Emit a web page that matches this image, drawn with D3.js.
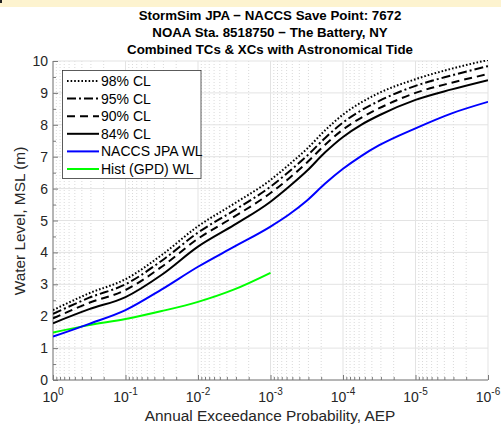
<!DOCTYPE html>
<html><head><meta charset="utf-8">
<script src="https://cdn.jsdelivr.net/npm/d3@7"></script>
<style>
html,body{margin:0;padding:0;background:#fff;}
svg{display:block;font-family:"Liberation Sans",Arial,Helvetica,sans-serif;}
</style></head>
<body><svg id="c" width="501" height="428"></svg>
<script>
// ---- data ----
const titleLines = ["StormSim JPA \u2212 NACCS Save Point: 7672","NOAA Sta. 8518750 \u2212 The Battery, NY","Combined TCs & XCs with Astronomical Tide"];
const xTickExps = [0,-1,-2,-3,-4,-5,-6];
const yTicks = [0,1,2,3,4,5,6,7,8,9,10];
const aep = [1, 0.3162, 0.1, 0.03162, 0.01, 0.003162, 0.001, 0.0005623, 0.0003162, 0.0001778, 0.0001, 0.00005623, 0.00003162, 0.00001, 0.000003162, 0.000001];
const cl98 = [2.19, 2.72, 3.16, 3.92, 4.82, 5.53, 6.27, 6.74, 7.24, 7.82, 8.32, 8.70, 9.00, 9.43, 9.76, 10.03];
const cl95 = [2.07, 2.58, 3.00, 3.74, 4.62, 5.32, 6.06, 6.52, 7.02, 7.58, 8.07, 8.45, 8.75, 9.22, 9.55, 9.84];
const cl90 = [1.93, 2.42, 2.82, 3.55, 4.43, 5.12, 5.86, 6.31, 6.81, 7.37, 7.85, 8.22, 8.52, 9.00, 9.32, 9.59];
const cl84 = [1.78, 2.22, 2.60, 3.30, 4.18, 4.86, 5.59, 6.05, 6.55, 7.13, 7.62, 8.00, 8.30, 8.78, 9.11, 9.40];
const jpa  = [1.36, 1.76, 2.19, 2.84, 3.55, 4.18, 4.81, 5.18, 5.62, 6.15, 6.62, 7.02, 7.36, 7.89, 8.36, 8.72];
const gpdAep = [1, 0.3162, 0.1, 0.03162, 0.01, 0.003162, 0.001];
const gpd  = [1.49, 1.72, 1.91, 2.16, 2.45, 2.84, 3.36];
const seriesNames = ["98% CL","95% CL","90% CL","84% CL","NACCS JPA WL","Hist (GPD) WL"];

// ---- layout ----
const svg = d3.select("#c");
const L=53, R=488, T=61, B=380;
const x = d3.scaleLog().domain([1,1e-6]).range([L,R]);
const y = d3.scaleLinear().domain([0,10]).range([B,T]);

svg.append("rect").attr("x",0).attr("y",0).attr("width",501).attr("height",7).attr("fill","#fdf3cf");
svg.append("rect").attr("x",0).attr("y",0).attr("width",2).attr("height",3).attr("fill","#222");

// title
svg.append("g").selectAll("text").data(titleLines).join("text")
  .attr("x",270).attr("y",(d,i)=>20+i*17).attr("text-anchor","middle")
  .attr("font-size",13.3).attr("font-weight","bold").attr("fill","#000").text(d=>d);

const g = svg.append("g");
// minor x grid
const minorX = [];
for (let e=0;e>-6;e--) for (let k=2;k<=9;k++) minorX.push(k*Math.pow(10,e-1));
g.append("g").selectAll("line").data(minorX).join("line")
  .attr("x1",d=>x(d)).attr("x2",d=>x(d)).attr("y1",T).attr("y2",B)
  .attr("stroke","#d9d9d9").attr("stroke-width",1).attr("stroke-dasharray","1,2");
// major grid
const majorX = xTickExps.map(e=>Math.pow(10,e));
g.append("g").selectAll("line").data(majorX).join("line")
  .attr("x1",d=>x(d)).attr("x2",d=>x(d)).attr("y1",T).attr("y2",B)
  .attr("stroke","#e3e3e3").attr("stroke-width",1);
g.append("g").selectAll("line").data(yTicks).join("line")
  .attr("x1",L).attr("x2",R).attr("y1",d=>y(d)).attr("y2",d=>y(d))
  .attr("stroke","#e3e3e3").attr("stroke-width",1);

// axes
const xAxis = d3.axisBottom(x).tickValues(majorX).tickSize(-5).tickFormat("");
const xa = g.append("g").attr("transform",`translate(0,${B})`).call(xAxis);
const xMinor = d3.axisBottom(x).tickValues(minorX).tickSize(-3).tickFormat("");
const xm = g.append("g").attr("transform",`translate(0,${B})`).call(xMinor);
xm.select(".domain").remove();
const yAxis = d3.axisLeft(y).tickValues(yTicks).tickSize(-5).tickFormat("");
const ya = g.append("g").attr("transform",`translate(${L},0)`).call(yAxis);
const yMinorVals = yTicks.slice(0,-1).map(v=>v+0.5);
const ym = g.append("g").attr("transform",`translate(${L},0)`).call(d3.axisLeft(y).tickValues(yMinorVals).tickSize(-3).tickFormat(""));
ym.select(".domain").remove();
[xa,xm,ya,ym].forEach(a=>{a.selectAll("path,line").attr("stroke","#7a7a7a");});
xa.select(".domain").attr("d",`M${L},0H${R}`);
ya.select(".domain").attr("d",`M0,${B}V${T}`);

// tick labels
const xl = svg.append("g").selectAll("text").data(xTickExps).join("text")
  .attr("x",e=>x(Math.pow(10,e))).attr("y",402).attr("text-anchor","middle")
  .attr("font-size",14).attr("fill","#262626");
xl.append("tspan").text("10");
xl.append("tspan").attr("dy",-7).attr("font-size",10).text(e=>String(e));
svg.append("g").selectAll("text").data(yTicks).join("text")
  .attr("x",48).attr("y",d=>y(d)+5).attr("text-anchor","end")
  .attr("font-size",14).attr("fill","#262626").text(d=>d);

svg.append("text").attr("x",270).attr("y",421).attr("text-anchor","middle")
  .attr("font-size",15.4).attr("fill","#262626").text("Annual Exceedance Probability, AEP");
svg.append("text").attr("transform","translate(25,221) rotate(-90)").attr("text-anchor","middle")
  .attr("font-size",15.4).attr("fill","#262626").text("Water Level, MSL (m)");

// curves
svg.append("clipPath").attr("id","clip").append("rect").attr("x",L).attr("y",T-1).attr("width",R-L).attr("height",B-T+1);
const styles = [
  {vals:cl98, xs:aep, color:"#000", dash:"1.6,2"},
  {vals:cl95, xs:aep, color:"#000", dash:"9,3,2,3"},
  {vals:cl90, xs:aep, color:"#000", dash:"8,5"},
  {vals:cl84, xs:aep, color:"#000", dash:null},
  {vals:jpa,  xs:aep, color:"#0000ff", dash:null},
  {vals:gpd,  xs:gpdAep, color:"#00ff00", dash:null}
];
const line = d3.line().x(d=>x(d[0])).y(d=>y(d[1])).curve(d3.curveMonotoneX);
const cg = svg.append("g").attr("clip-path","url(#clip)");
styles.slice().reverse().forEach(s=>{
  cg.append("path").attr("d",line(s.xs.map((a,i)=>[a,s.vals[i]])))
    .attr("fill","none").attr("stroke",s.color).attr("stroke-width",2)
    .attr("stroke-dasharray",s.dash);
});

// legend
const lg = svg.append("g");
lg.append("rect").attr("x",62.5).attr("y",70.5).attr("width",138.5).attr("height",108)
  .attr("fill","#fff").attr("stroke","#333").attr("stroke-width",0.8);
styles.forEach((s,i)=>{
  const yy = 81 + i*17.6;
  lg.append("line").attr("x1",67).attr("x2",99).attr("y1",yy).attr("y2",yy)
    .attr("stroke",s.color).attr("stroke-width",2).attr("stroke-dasharray",s.dash);
  lg.append("text").attr("x",101).attr("y",yy+5).attr("font-size",14).attr("fill","#000").text(seriesNames[i]);
});
</script></body></html>
